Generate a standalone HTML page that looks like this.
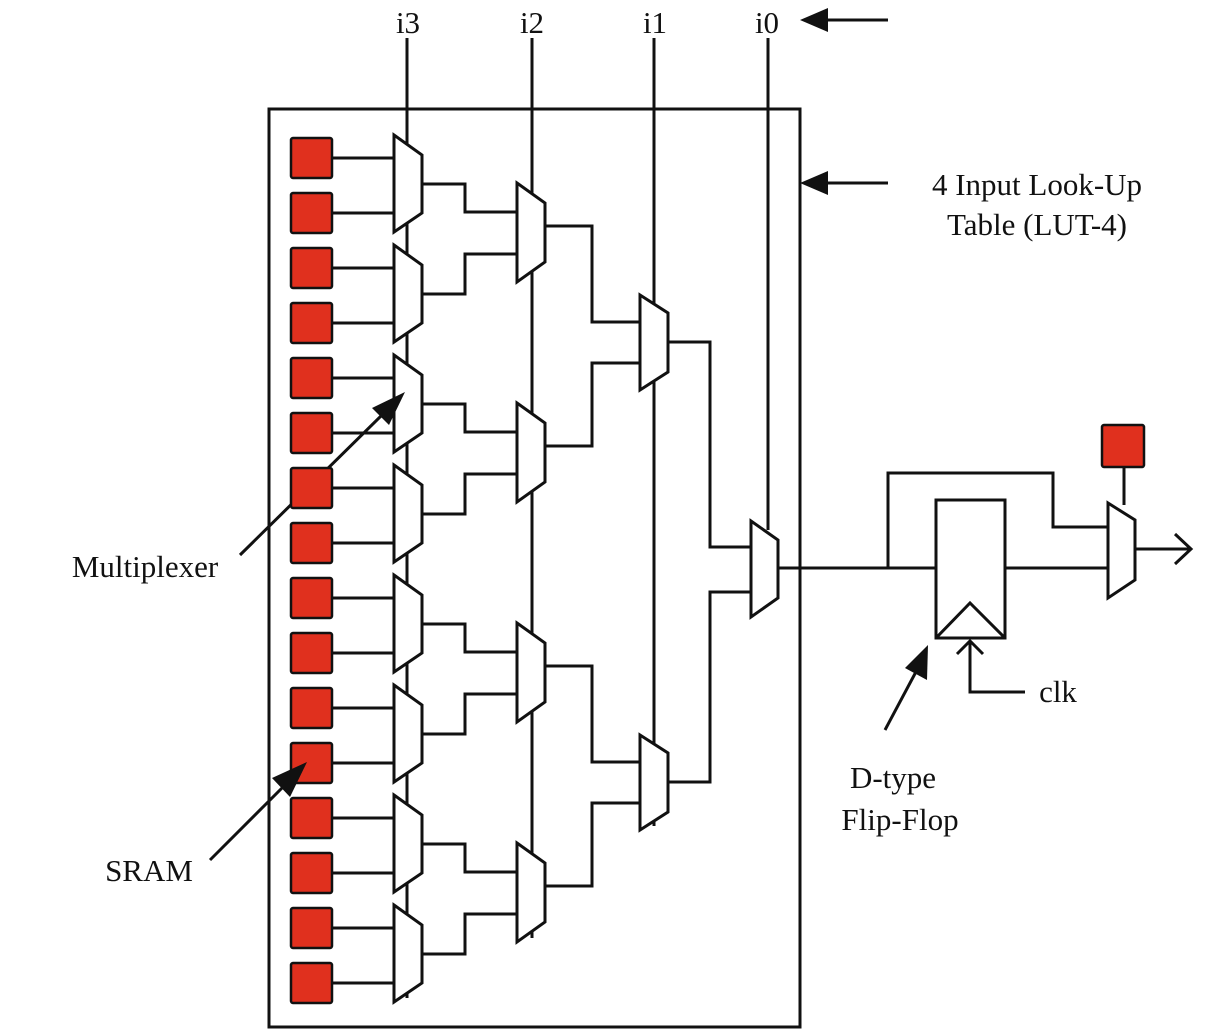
<!DOCTYPE html>
<html><head><meta charset="utf-8"><style>
html,body{margin:0;padding:0;background:#fff;}
svg{display:block;}
text{font-family:"Liberation Serif",serif;font-size:31px;fill:#111;}
</style></head><body>
<svg width="1217" height="1033" viewBox="0 0 1217 1033" xmlns="http://www.w3.org/2000/svg">
<g fill="none" stroke="#111" stroke-width="3">
<rect x="269" y="109" width="531" height="918"/>
<line x1="407" y1="38" x2="407" y2="998"/>
<line x1="532" y1="38" x2="532" y2="938"/>
<line x1="654" y1="38" x2="654" y2="826"/>
<line x1="768" y1="38" x2="768" y2="530"/>
<path d="M332 158H394M332 213H394M332 268H394M332 323H394M332 378H394M332 433H394M332 488H394M332 543H394M332 598H394M332 653H394M332 708H394M332 763H394M332 818H394M332 873H394M332 928H394M332 983H394"/>
<path d="M422 184H465V212H517M422 294H465V254H517M422 404H465V432H517M422 514H465V474H517M422 624H465V652H517M422 734H465V694H517M422 844H465V872H517M422 954H465V914H517"/>
<path d="M545 226H592V322H640M545 446H592V363H640M545 666H592V762H640M545 886H592V803H640"/>
<path d="M668 342H710V547H751M668 782H710V592H751"/>
<path d="M778 568H937"/>
<path d="M888 568V473H1053V527H1108"/>
<path d="M1005 568H1108"/>
<path d="M1135 549H1190M1175 534L1191 549L1175 564"/>
<path d="M1124 467V505"/>
<path d="M1025 692H970V641M957 654L970 641L983 654"/>
<line x1="240" y1="555" x2="385" y2="412"/>
<line x1="210" y1="860" x2="288" y2="782"/>
<line x1="885" y1="730" x2="918" y2="668"/>
<line x1="888" y1="20" x2="820" y2="20"/>
<line x1="888" y1="183" x2="820" y2="183"/>
</g>
<g fill="#fff" stroke="#111" stroke-width="3" stroke-linejoin="miter">
<polygon points="394,135 422,155 422,213 394,232"/>
<polygon points="394,245 422,265 422,323 394,342"/>
<polygon points="394,355 422,375 422,433 394,452"/>
<polygon points="394,465 422,485 422,543 394,562"/>
<polygon points="394,575 422,595 422,653 394,672"/>
<polygon points="394,685 422,705 422,763 394,782"/>
<polygon points="394,795 422,815 422,873 394,892"/>
<polygon points="394,905 422,925 422,983 394,1002"/>
<polygon points="517,183 545,203 545,262 517,282"/>
<polygon points="517,403 545,423 545,482 517,502"/>
<polygon points="517,623 545,643 545,702 517,722"/>
<polygon points="517,843 545,863 545,922 517,942"/>
<polygon points="640,295 668,313 668,372 640,390"/>
<polygon points="640,735 668,753 668,812 640,830"/>
<polygon points="751,521 778,540 778,598 751,617"/>
<polygon points="1108,503 1135,520 1135,580 1108,598"/>
<rect x="936" y="500" width="69" height="138"/>
<polyline points="936,638 970,603 1005,638" fill="none"/>
</g>
<g fill="#e0301e" stroke="#111" stroke-width="2.5">
<rect x="291" y="138" width="41" height="40" rx="2"/>
<rect x="291" y="193" width="41" height="40" rx="2"/>
<rect x="291" y="248" width="41" height="40" rx="2"/>
<rect x="291" y="303" width="41" height="40" rx="2"/>
<rect x="291" y="358" width="41" height="40" rx="2"/>
<rect x="291" y="413" width="41" height="40" rx="2"/>
<rect x="291" y="468" width="41" height="40" rx="2"/>
<rect x="291" y="523" width="41" height="40" rx="2"/>
<rect x="291" y="578" width="41" height="40" rx="2"/>
<rect x="291" y="633" width="41" height="40" rx="2"/>
<rect x="291" y="688" width="41" height="40" rx="2"/>
<rect x="291" y="743" width="41" height="40" rx="2"/>
<rect x="291" y="798" width="41" height="40" rx="2"/>
<rect x="291" y="853" width="41" height="40" rx="2"/>
<rect x="291" y="908" width="41" height="40" rx="2"/>
<rect x="291" y="963" width="41" height="40" rx="2"/>
<rect x="1102" y="425" width="42" height="42" rx="2"/>
</g>
<g fill="#111">
<polygon points="405,392 372,408 389,425"/>
<polygon points="307,762 272,778 290,797"/>
<polygon points="928,645 905,668 927,680"/>
<polygon points="800,20 828,8 828,32"/>
<polygon points="800,183 828,171 828,195"/>
</g>
<text x="408" y="33" text-anchor="middle">i3</text>
<text x="532" y="33" text-anchor="middle">i2</text>
<text x="655" y="33" text-anchor="middle">i1</text>
<text x="767" y="33" text-anchor="middle">i0</text>
<text x="1037" y="195" text-anchor="middle">4 Input Look-Up</text>
<text x="1037" y="235" text-anchor="middle">Table (LUT-4)</text>
<text x="145" y="577" text-anchor="middle">Multiplexer</text>
<text x="149" y="881" text-anchor="middle">SRAM</text>
<text x="1058" y="702" text-anchor="middle">clk</text>
<text x="893" y="788" text-anchor="middle">D-type</text>
<text x="900" y="830" text-anchor="middle">Flip-Flop</text>
</svg>
</body></html>
